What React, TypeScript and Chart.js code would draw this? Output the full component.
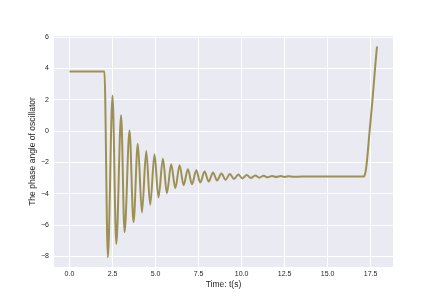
import React, { useEffect, useRef } from "react";
import { Chart, registerables } from "chart.js";

Chart.register(...registerables);

// Time samples (s) and phase angle of the oscillator
const timeValues: number[] = [
  0, 2.03, 2.23, 2.5, 2.72, 3.0, 3.2, 3.49, 3.72, 3.97, 4.21, 4.46, 4.69, 4.94,
  5.17, 5.43, 5.66, 5.91, 6.15, 6.4, 6.63, 6.88, 7.12, 7.37, 7.6, 7.85, 8.09,
  8.34, 8.58, 8.83, 9.07, 9.32, 9.56, 9.81, 10.05, 10.3, 10.54, 10.79, 11.03,
  11.28, 11.52, 11.77, 12.01, 12.26, 12.5, 12.75, 13.0, 13.5, 17.1, 17.15,
  17.22, 17.3, 17.44, 17.62, 17.77, 17.87,
];
const phaseValues: number[] = [
  3.8, 3.8, -8.04, 2.27, -7.2, 1.02, -6.45, 0.04, -5.82, -0.8, -5.19, -1.27,
  -4.7, -1.48, -4.23, -1.76, -3.96, -2.12, -3.64, -2.18, -3.45, -2.43, -3.39,
  -2.5, -3.28, -2.58, -3.22, -2.64, -3.15, -2.7, -3.1, -2.74, -3.06, -2.77,
  -3.02, -2.8, -2.99, -2.83, -2.97, -2.85, -2.95, -2.86, -2.93, -2.87, -2.92,
  -2.88, -2.91, -2.9, -2.9, -2.82, -2.5, -1.75, 0.0, 2.15, 4.2, 5.4,
];
const xTicks: number[] = [0, 2.5, 5, 7.5, 10, 12.5, 15, 17.5];
const yTicks: number[] = [-8, -6, -4, -2, 0, 2, 4, 6];
const xTitle = "Time: t(s)";
const yTitle = "The phase angle of oscillator";

const FONT = "'Liberation Sans', Arial, Helvetica, sans-serif";
const TEXT = "#262626";

const bgPlugin = {
  id: "bgPlugin",
  beforeDraw(chart: any) {
    const { ctx, chartArea } = chart;
    ctx.save();
    ctx.fillStyle = "#ffffff";
    ctx.fillRect(0, 0, chart.width, chart.height);
    ctx.fillStyle = "#EAEAF2";
    ctx.fillRect(
      chartArea.left,
      chartArea.top,
      chartArea.right - chartArea.left,
      chartArea.bottom - chartArea.top
    );
    ctx.restore();
  },
};

export default function App() {
  const ref = useRef<HTMLCanvasElement | null>(null);

  useEffect(() => {
    document.body.style.margin = "0";
    if (!ref.current) return;
    const points = timeValues.map((t, i) => ({ x: t, y: phaseValues[i] }));
    const chart = new Chart(ref.current, {
      type: "line",
      data: {
        datasets: [
          {
            data: points,
            borderColor: "#9d9055",
            borderWidth: 2,
            pointRadius: 0,
            fill: false,
            cubicInterpolationMode: "monotone",
          },
        ],
      },
      options: {
        animation: false,
        responsive: false,
        maintainAspectRatio: false,
        layout: { padding: { left: 0, right: 43, top: 36, bottom: 0 } },
        plugins: {
          legend: { display: false },
          tooltip: { enabled: false },
        },
        scales: {
          x: {
            type: "linear",
            min: -0.9,
            max: 18.8,
            afterBuildTicks: (scale: any) => {
              scale.ticks = xTicks.map((v) => ({ value: v }));
            },
            afterFit: (scale: any) => {
              scale.height = 33;
            },
            grid: { color: "#ffffff", lineWidth: 1, drawTicks: false },
            border: { display: false },
            ticks: {
              autoSkip: false,
              maxRotation: 0,
              padding: 3,
              color: TEXT,
              font: { family: FONT, size: 7 },
              callback: (v: any) => Number(v).toFixed(1),
            },
            title: {
              display: true,
              text: xTitle,
              color: TEXT,
              font: { family: FONT, size: 8.5 },
              padding: { top: 0, bottom: 10 },
            },
          },
          y: {
            type: "linear",
            min: -8.67,
            max: 6.07,
            afterBuildTicks: (scale: any) => {
              scale.ticks = yTicks.map((v) => ({ value: v }));
            },
            afterFit: (scale: any) => {
              scale.width = 54;
            },
            grid: { color: "#ffffff", lineWidth: 1, drawTicks: false },
            border: { display: false },
            ticks: {
              autoSkip: false,
              padding: 5,
              color: TEXT,
              font: { family: FONT, size: 7 },
              callback: (v: any) => String(v).replace("-", "\u2212"),
            },
            title: {
              display: true,
              text: yTitle,
              color: TEXT,
              font: { family: FONT, size: 8.5 },
              padding: { top: 28, bottom: 0 },
            },
          },
        },
      },
      plugins: [bgPlugin],
    });
    return () => chart.destroy();
  }, []);

  return (
    <div style={{ width: 436, height: 300 }}>
      <canvas ref={ref} width={436} height={300} style={{ display: "block" }} />
    </div>
  );
}
